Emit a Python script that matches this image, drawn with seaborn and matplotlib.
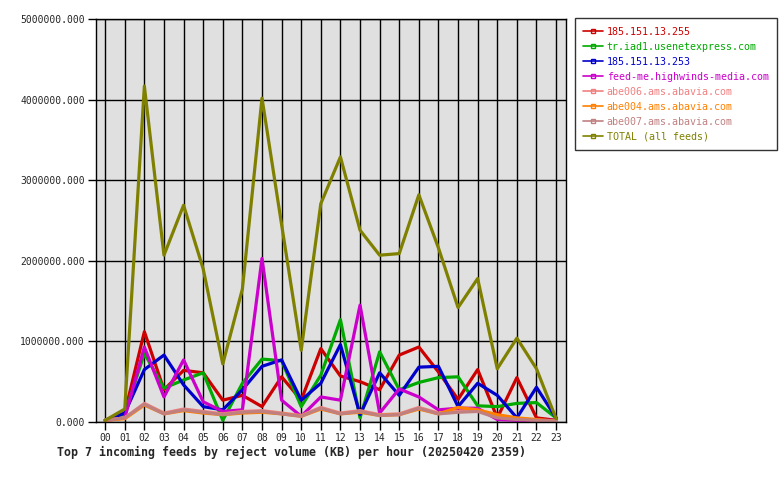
import pandas as pd
import matplotlib
matplotlib.use("Agg")
import matplotlib.pyplot as plt
import seaborn as sns
from matplotlib.lines import Line2D
from matplotlib.ticker import FormatStrFormatter

hours = ["%02d" % h for h in range(24)]

feeds = ["185.151.13.255", "tr.iad1.usenetexpress.com", "185.151.13.253",
         "feed-me.highwinds-media.com", "abe006.ams.abavia.com",
         "abe004.ams.abavia.com", "abe007.ams.abavia.com", "TOTAL (all feeds)"]

colors = ["#cc0000", "#00aa00", "#0000cc", "#cc00cc", "#f08080",
          "#ff8000", "#c08080", "#808000"]

# values in KB
red = [20000, 110000, 1120000, 400000, 640000, 610000, 270000, 330000, 190000, 560000,
       270000, 910000, 570000, 500000, 400000, 830000, 930000, 620000, 280000, 650000,
       50000, 550000, 50000, 20000]
green = [20000, 100000, 850000, 420000, 520000, 610000, 20000, 480000, 780000, 760000,
         190000, 580000, 1270000, 50000, 870000, 400000, 490000, 550000, 560000, 200000,
         190000, 230000, 240000, 50000]
blue = [20000, 110000, 650000, 830000, 460000, 190000, 150000, 400000, 690000, 770000,
        270000, 480000, 960000, 90000, 610000, 330000, 680000, 690000, 190000, 480000,
        330000, 50000, 430000, 50000]
magenta = [20000, 50000, 930000, 310000, 770000, 250000, 130000, 150000, 2030000, 270000,
           70000, 310000, 270000, 1450000, 110000, 410000, 310000, 150000, 170000, 170000,
           30000, 20000, 20000, 20000]
abe006 = [20000, 50000, 230000, 110000, 160000, 130000, 100000, 130000, 140000, 110000,
          80000, 180000, 110000, 140000, 90000, 100000, 180000, 110000, 130000, 140000,
          60000, 40000, 20000, 10000]
abe004 = [20000, 40000, 210000, 100000, 140000, 110000, 90000, 110000, 120000, 100000,
          70000, 160000, 100000, 120000, 80000, 90000, 160000, 100000, 180000, 150000,
          90000, 50000, 30000, 10000]
abe007 = [20000, 50000, 220000, 100000, 150000, 120000, 90000, 120000, 130000, 100000,
          70000, 170000, 100000, 130000, 80000, 90000, 170000, 100000, 120000, 130000,
          50000, 30000, 20000, 10000]
total = [20000, 160000, 4170000, 2070000, 2690000, 1900000, 720000, 1650000, 4020000, 2450000,
         890000, 2710000, 3290000, 2380000, 2070000, 2090000, 2820000, 2160000, 1420000, 1780000,
         660000, 1040000, 660000, 40000]

series = [red, green, blue, magenta, abe006, abe004, abe007, total]

rows = []
for name, vals in zip(feeds, series):
    for h, v in enumerate(vals):
        rows.append({"hour": h, "kb": v, "feed": name})
df = pd.DataFrame(rows)

sns.set_style("white")
plt.rcParams["font.family"] = ["DejaVu Sans Mono"]

fig = plt.figure(figsize=(7.8, 4.8), dpi=100)
ax = fig.add_axes([0.123, 0.121, 0.603, 0.839])
ax.set_facecolor("#e0e0e0")

sns.lineplot(data=df, x="hour", y="kb", hue="feed", hue_order=feeds,
             palette=colors, linewidth=2.3, legend=False, ax=ax)

ax.set_xlim(-0.47, 23.52)
ax.set_ylim(0, 5000000)
ax.set_xticks(range(24))
ax.set_xticklabels(hours)
ax.set_yticks(range(0, 5000001, 1000000))
ax.yaxis.set_major_formatter(FormatStrFormatter("%.3f"))
ax.tick_params(axis="both", labelsize=7, length=6, width=1, color="black",
               direction="out", left=True, bottom=True, pad=2)
ax.grid(True, color="black", linewidth=1)
ax.set_axisbelow(True)
for s in ax.spines.values():
    s.set_color("black")
    s.set_linewidth(1)
ax.set_xlabel("")
ax.set_ylabel("")

handles = [Line2D([0], [0], color=c, linewidth=1.2, marker="s", markersize=2.5,
                  markerfacecolor="none", markeredgecolor=c) for c in colors]
leg = ax.legend(handles, feeds, loc="upper left", bbox_to_anchor=(1.018, 1.002),
                fontsize=7.2, frameon=True, fancybox=False, edgecolor="black",
                handlelength=2.0, handletextpad=0.35, borderpad=0.85,
                labelspacing=0.5, borderaxespad=0)
leg.get_frame().set_linewidth(1)
for t, c in zip(leg.get_texts(), colors):
    t.set_color(c)

fig.text(0.073, 0.058, "Top 7 incoming feeds by reject volume (KB) per hour (20250420 2359)",
         fontsize=8.35, fontweight="bold", ha="left", va="center")

fig.savefig("out.png", dpi=100, facecolor="white")
